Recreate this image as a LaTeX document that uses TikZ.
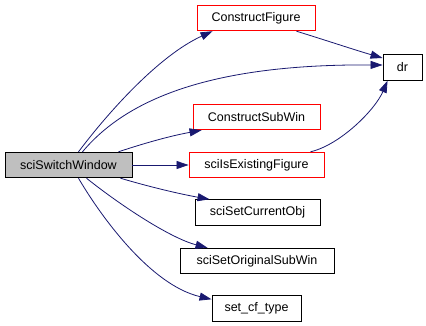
\documentclass[tikz,border=0pt]{standalone}
\usepackage{fontspec}
\setmainfont{Liberation Sans}
\usetikzlibrary{arrows.meta}
\definecolor{edgeblue}{HTML}{191970}
\definecolor{mainfill}{HTML}{BFBFBF}
\tikzset{
  fbox/.style={draw=black,fill=white,line width=0.9pt,inner sep=0pt,minimum height=25.5pt},
  fred/.style={fbox,draw=red},
  fmain/.style={fbox,fill=mainfill},
  farr/.style={-{Triangle[length=12pt,width=8pt,fill=edgeblue]},line width=0.8pt,draw=edgeblue}
}

\begin{document}
\begin{tikzpicture}[x=1pt,y=-1pt,font=\fontsize{12.5}{14}\selectfont]
  \useasboundingbox (0,0) rectangle (426,325);
  % boxes placed at pixel centres of the call graph
  \node[fmain,minimum width=127pt] (main) at (68.5,165) {sciSwitchWindow};
  \node[fred,minimum width=118pt] (cfig) at (256,18) {ConstructFigure};
  \node[fbox,minimum width=39pt] (dr) at (402.5,67.5) {dr};
  \node[fred,minimum width=127pt] (csub) at (256.5,117) {ConstructSubWin};
  \node[fred,minimum width=135pt] (exist) at (256.5,165) {sciIsExistingFigure};
  \node[fbox,minimum width=125pt] (setobj) at (257.5,212.5) {sciSetCurrentObj};
  \node[fbox,minimum width=154pt] (origsub) at (257,261) {sciSetOriginalSubWin};
  \node[fbox,minimum width=89pt] (cftype) at (256.5,308.5) {set\_cf\_type};

  \draw[farr] ([xshift=10]main.north) .. controls (110,110) and (160,55) .. ([xshift=16]cfig.south west);
  \draw[farr] ([xshift=14]main.north) .. controls (130,95) and (220,64) .. ([yshift=2.5]dr.west);
  \draw[farr] ([xshift=-14]main.north east) .. controls (145,143) and (170,136) .. ([xshift=9]csub.south west);
  \draw[farr] (main.east) -- (exist.west);
  \draw[farr] ([xshift=-12]main.south east) .. controls (150,187) and (180,194) .. ([xshift=15]setobj.north west);
  \draw[farr] ([xshift=18]main.south) .. controls (120,205) and (170,238) .. ([xshift=28]origsub.north west);
  \draw[farr] ([xshift=10]main.south) .. controls (100,215) and (150,285) .. ([yshift=-4]cftype.north west);
  \draw[farr] ([xshift=-19]cfig.south east) .. controls (325,40) and (355,50) .. ([yshift=9.5]dr.west);
  \draw[farr] ([xshift=-14]exist.north east) .. controls (340,145) and (375,110) .. ([xshift=5]dr.south west);
\end{tikzpicture}
\end{document}
